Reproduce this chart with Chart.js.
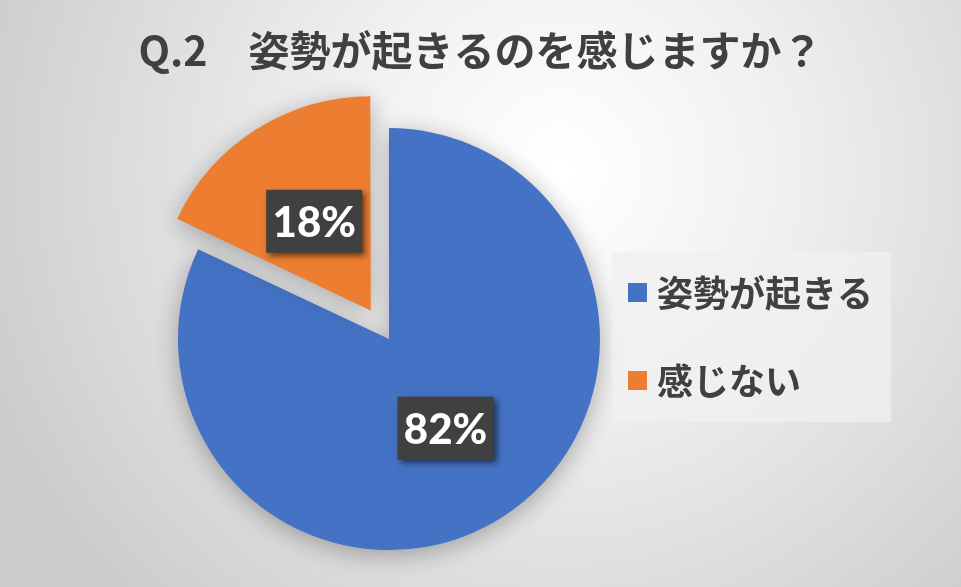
<!DOCTYPE html>
<html>
<head>
<meta charset="utf-8">
<script src="https://cdn.jsdelivr.net/npm/chart.js@4/dist/chart.umd.min.js"></script>
<style>
  html, body { margin: 0; padding: 0; background: #e0e0e0; }
  #wrap { width: 961px; height: 587px; }
</style>
</head>
<body>
<div id="wrap"><canvas id="c" width="961" height="587"></canvas></div>
<script>
const titleText = 'Q.2\u3000姿勢が起きるのを感じますか？';
const categories = ['姿勢が起きる', '感じない'];
const values = [82, 18];
const colors = ['#4472C4', '#ED7D31'];

// reserve room on the right for the legend panel without shrinking the title box
const spacerPlugin = {
  id: 'rightSpacer',
  beforeInit(chart) {
    const box = {
      position: 'right', weight: 0, fullSize: false,
      options: {},
      width: 0, height: 0, left: 0, top: 0, right: 0, bottom: 0,
      isHorizontal() { return false; },
      getPadding() { return { top: 0, left: 0, right: 0, bottom: 0 }; },
      update(maxWidth, maxHeight) { this.width = 183; this.height = maxHeight; },
      draw() {}
    };
    Chart.layouts.addBox(chart, box);
  }
};

const bgPlugin = {
  id: 'bg',
  beforeDraw(chart) {
    const ctx = chart.ctx;
    const w = chart.width, h = chart.height;
    ctx.save();
    const g = ctx.createRadialGradient(560, 170, 10, 560, 170, 620);
    g.addColorStop(0, '#ffffff');
    g.addColorStop(0.35, '#f0f0f0');
    g.addColorStop(1, '#cbcbcb');
    ctx.fillStyle = g;
    ctx.fillRect(0, 0, w, h);
    ctx.restore();
  }
};

const shadowPlugin = {
  id: 'arcShadow',
  beforeDatasetsDraw(chart) {
    const ctx = chart.ctx;
    ctx.save();
    ctx.shadowColor = 'rgba(0,0,0,0.30)';
    ctx.shadowBlur = 24;
    ctx.shadowOffsetX = 0;
    ctx.shadowOffsetY = 5;
  },
  afterDatasetsDraw(chart) {
    chart.ctx.restore();
  }
};

const labelPlugin = {
  id: 'sliceLabels',
  afterDatasetsDraw(chart) {
    const ctx = chart.ctx;
    const meta = chart.getDatasetMeta(0);
    const data = chart.data.datasets[0].data;
    const total = data.reduce((a, b) => a + b, 0);
    meta.data.forEach((arc, i) => {
      const mid = (arc.startAngle + arc.endAngle) / 2;
      const shift = (arc.options.offset || 0) / 4;
      const rr = shift + arc.outerRadius / 2;
      const px = arc.x + Math.cos(mid) * rr;
      const py = arc.y + Math.sin(mid) * rr;
      const bw = 96, bh = 63;
      ctx.save();
      ctx.shadowColor = 'rgba(0,0,0,0.55)';
      ctx.shadowBlur = 6;
      ctx.shadowOffsetX = 3;
      ctx.shadowOffsetY = 3;
      ctx.fillStyle = '#404040';
      ctx.fillRect(px - bw / 2, py - bh / 2, bw, bh);
      ctx.restore();
      ctx.save();
      ctx.fillStyle = '#ffffff';
      ctx.font = '900 42px Lato, "Open Sans", sans-serif';
      ctx.textAlign = 'center';
      ctx.textBaseline = 'middle';
      ctx.fillText(Math.round(data[i] / total * 100) + '%', px, py + 2);
      ctx.restore();
    });
  }
};

const legendPlugin = {
  id: 'boxLegend',
  afterDraw(chart) {
    const ctx = chart.ctx;
    const ds = chart.data.datasets[0];
    const x0 = 612, y0 = 252, w = 279, h = 170;
    ctx.save();
    ctx.fillStyle = 'rgba(240,240,240,0.75)';
    ctx.fillRect(x0, y0, w, h);
    chart.data.labels.forEach((lab, i) => {
      const cy = 293 + i * 88;
      ctx.fillStyle = ds.backgroundColor[i];
      ctx.fillRect(628, cy - 10, 19, 19);
      ctx.fillStyle = '#404040';
      ctx.font = 'bold 36px "Noto Sans CJK JP", sans-serif';
      ctx.textAlign = 'left';
      ctx.textBaseline = 'middle';
      ctx.fillText(lab, 657, cy);
    });
    ctx.restore();
  }
};

new Chart(document.getElementById('c'), {
  type: 'pie',
  data: {
    labels: categories,
    datasets: [{
      data: values,
      backgroundColor: colors,
      borderWidth: 0,
      offset: [0, 136],
      hoverOffset: 0
    }]
  },
  options: {
    responsive: false,
    devicePixelRatio: 1,
    animation: false,
    radius: 211,
    layout: { padding: { top: 10, left: 0, right: 0, bottom: 7 } },
    plugins: {
      legend: { display: false },
      tooltip: { enabled: false },
      title: {
        display: true,
        text: titleText,
        color: '#404040',
        font: { family: '"Noto Sans CJK JP", sans-serif', size: 41, weight: 'bold', lineHeight: 1.2 },
        padding: { top: 16, bottom: 23 }
      }
    }
  },
  plugins: [spacerPlugin, bgPlugin, shadowPlugin, labelPlugin, legendPlugin]
});
</script>
</body>
</html>
